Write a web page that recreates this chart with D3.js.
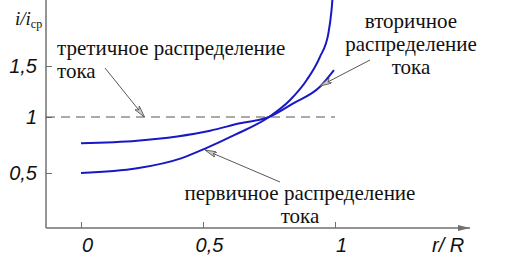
<!DOCTYPE html>
<html>
<head>
<meta charset="utf-8">
<script src="https://cdn.jsdelivr.net/npm/d3@7"></script>
<style>
  body { margin: 0; background: #fff; }
  svg { display: block; }
  .serif { font-family: "Liberation Serif", "LiberationSerif", Tinos, "Noto Serif", "DejaVu Serif", FreeSerif, Times, serif; }
  .sansi { font-family: "Liberation Sans", Arial, sans-serif; font-style: italic; }
</style>
</head>
<body>
<script>
// r/R positions and i/i_cp values
var primary_r   = [0, 0.23, 0.41, 0.51, 0.62, 0.75, 0.83, 0.893, 0.943, 0.975, 0.987, 0.993];
var primary_v   = [0.5, 0.542, 0.631, 0.72, 0.84, 1.0, 1.167, 1.363, 1.59, 1.82, 2.05, 2.25];
var secondary_r = [0, 0.23, 0.527, 0.64, 0.75, 0.842, 0.943, 0.996];
var secondary_v = [0.765, 0.788, 0.878, 0.944, 1.0, 1.134, 1.297, 1.46];
var tertiary_v  = 1;

var x_ticks  = [0, 0.5, 1];
var x_labels = ["0", "0,5", "1"];
var y_ticks  = [0.5, 1, 1.5];
var y_labels = ["0,5", "1", "1,5"];

var width = 516, height = 260;
var gray = "#707070", blue = "#1818c4";

var svg = d3.select("body").append("svg")
            .attr("width", width)
            .attr("height", height);

// the original axes are not quite evenly spaced
var x = d3.scaleLinear().domain([0, 0.5, 1]).range([81, 203, 335]);
var y = d3.scaleLinear().domain([0.5, 1, 1.5]).range([173, 117, 66]);

var x0 = 46, y0 = 228;

svg.append("defs").append("marker")
   .attr("id", "axis-arrow")
   .attr("viewBox", "0 0 12 6")
   .attr("refX", 12).attr("refY", 3)
   .attr("markerWidth", 12).attr("markerHeight", 6)
   .attr("markerUnits", "userSpaceOnUse")
   .attr("orient", "auto")
   .append("path").attr("d", "M0,0 L12,3 L0,6 Z").attr("fill", gray);

svg.select("defs").append("marker")
   .attr("id", "lead-arrow")
   .attr("viewBox", "0 0 12 6")
   .attr("refX", 12).attr("refY", 3)
   .attr("markerWidth", 12).attr("markerHeight", 6)
   .attr("markerUnits", "userSpaceOnUse")
   .attr("orient", "auto")
   .append("path").attr("d", "M0,0 L12,3 L0,6 L3,3 Z")
   .attr("fill", "#ccc").attr("stroke", "#555").attr("stroke-width", 0.8);

// axes lines
svg.append("line").attr("x1", x0).attr("y1", y0).attr("x2", x0).attr("y2", 0)
   .attr("stroke", gray).attr("stroke-width", 1.5);
svg.append("line").attr("x1", x0).attr("y1", y0).attr("x2", 470).attr("y2", y0)
   .attr("stroke", gray).attr("stroke-width", 1.5)
   .attr("marker-end", "url(#axis-arrow)");

var xAxis = d3.axisBottom(x).tickValues(x_ticks).tickSize(-6).tickPadding(10)
              .tickFormat(function(d, i) { return x_labels[i]; });
var yAxis = d3.axisLeft(y).tickValues(y_ticks).tickSize(-6).tickPadding(9)
              .tickFormat(function(d, i) { return y_labels[i]; });

var gx = svg.append("g").attr("transform", "translate(0," + y0 + ")").call(xAxis);
var gy = svg.append("g").attr("transform", "translate(" + x0 + ",0)").call(yAxis);

[gx, gy].forEach(function(g) {
  g.attr("font-family", null).attr("font-size", null);
  g.select(".domain").remove();
  g.selectAll(".tick line").attr("stroke", gray);
  g.selectAll(".tick text")
   .attr("class", "sansi")
   .attr("fill", "#111")
   .style("font-size", "20px");
});
gx.selectAll(".tick text").attr("dx", 6).attr("dy", "0.68em");

// axis titles
svg.append("text").attr("class", "sansi").attr("x", 432).attr("y", 252)
   .style("font-size", "20px").attr("fill", "#111")
   .text("r/ R");

var yt = svg.append("text").attr("class", "serif").attr("x", 15).attr("y", 25)
   .style("font-style", "italic").style("font-size", "19px").attr("fill", "#111");
yt.append("tspan").text("i/i");
yt.append("tspan").attr("dy", 3).style("font-size", "12px").style("font-style", "normal").text("ср");

// tertiary distribution, dashed
svg.append("line")
   .attr("x1", x0).attr("x2", x(1))
   .attr("y1", y(tertiary_v)).attr("y2", y(tertiary_v))
   .attr("stroke", "#555").attr("stroke-width", 1)
   .attr("stroke-dasharray", "9,6");

var line = d3.line()
             .x(function(d) { return x(d[0]); })
             .y(function(d) { return y(d[1]); })
             .curve(d3.curveMonotoneX);

svg.append("path").datum(d3.zip(primary_r, primary_v))
   .attr("d", line).attr("fill", "none")
   .attr("stroke", blue).attr("stroke-width", 2);
svg.append("path").datum(d3.zip(secondary_r, secondary_v))
   .attr("d", line).attr("fill", "none")
   .attr("stroke", blue).attr("stroke-width", 2);

// labels
function label(lines, xpos, ypos, anchor) {
  var t = svg.append("text")
     .attr("class", "serif")
     .attr("text-anchor", anchor)
     .style("font-size", "21px").attr("fill", "#111");
  lines.forEach(function(s, i) {
    t.append("tspan").attr("x", xpos).attr("y", ypos + i * 23).text(s);
  });
}
label(["третичное распределение", "тока"], 57, 55, "start");
label(["вторичное", "распределение", "тока"], 411, 28, "middle");
label(["первичное распределение", "тока"], 300, 200, "middle");

// leader arrows
function leader(x1, y1, x2, y2) {
  svg.append("line").attr("x1", x1).attr("y1", y1).attr("x2", x2).attr("y2", y2)
     .attr("stroke", "#444").attr("stroke-width", 0.9)
     .attr("marker-end", "url(#lead-arrow)");
}
leader(105, 68, x(0.26), y(tertiary_v));
leader(370, 60, 320, 86);
leader(280, 182, 205, 150);
</script>
</body>
</html>
